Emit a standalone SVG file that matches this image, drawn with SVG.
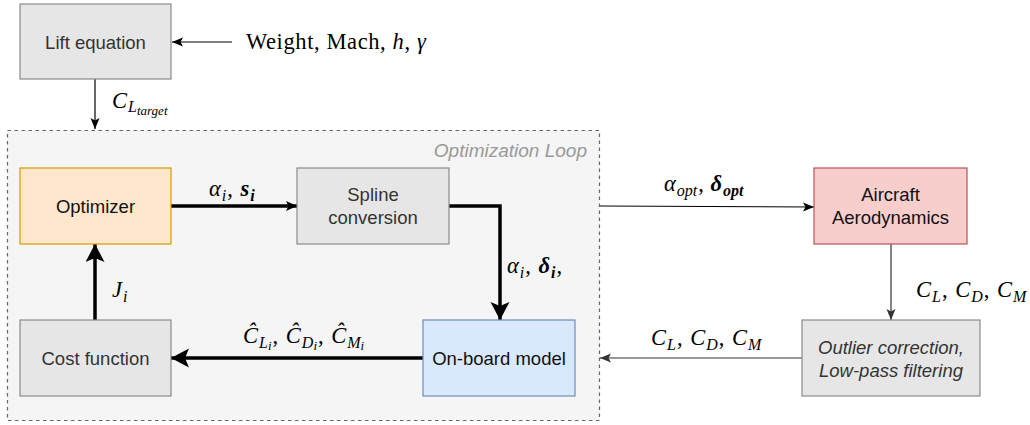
<svg xmlns="http://www.w3.org/2000/svg" width="1030" height="425" viewBox="0 0 1030 425">
<style>
.box{stroke-width:1.2}
.gray{fill:#e6e6e6;stroke:#8a8a8a}
.lbl{font-family:"Liberation Sans",Arial,sans-serif;font-size:18.5px;text-anchor:middle}
.dk{fill:#333}
.bk{fill:#111}
.m{font-family:"Liberation Serif","Times New Roman",serif;font-size:22.5px;fill:#000}
.i{font-style:italic}
.b{font-weight:bold}
.s{font-size:16px}
.ss{font-size:13px}
.thin{stroke:#000;stroke-width:1.2;fill:none}
.thin2{stroke:#333;stroke-width:1.2;fill:none}
.thick{stroke:#000;stroke-width:3.5;fill:none}
</style>
<defs>
<marker id="ah" markerUnits="userSpaceOnUse" markerWidth="12" markerHeight="10" refX="11" refY="4.5" orient="auto">
<path d="M0,0 L11,4.5 L0,9 L2.5,4.5 z" fill="#000"/>
</marker>
<marker id="ah2" markerUnits="userSpaceOnUse" markerWidth="12" markerHeight="10" refX="11" refY="4.5" orient="auto">
<path d="M0,0 L11,4.5 L0,9 L2.5,4.5 z" fill="#333"/>
</marker>
<marker id="am" markerUnits="userSpaceOnUse" markerWidth="12" markerHeight="11" refX="11" refY="5" orient="auto">
<path d="M0,0 L11,5 L0,10 L2.5,5 z" fill="#000"/>
</marker>
<marker id="ab" markerUnits="userSpaceOnUse" markerWidth="20" markerHeight="20" refX="18" refY="9.5" orient="auto">
<path d="M0,0 L18,9.5 L0,19 L4,9.5 z" fill="#000"/>
</marker>
</defs>

<g id="optimization-loop">
<rect x="7.5" y="130.5" width="592" height="290" fill="#f5f5f5" stroke="#666" stroke-width="1.2" stroke-dasharray="3.5 3.5"/>
<text x="587" y="157" font-family="'Liberation Sans',Arial,sans-serif" font-size="19" font-style="italic" fill="#999" text-anchor="end">Optimization Loop</text>
</g>

<g id="connectors">
<line class="thin" x1="232" y1="42" x2="172" y2="42" marker-end="url(#ah)"/>
<line class="thin" x1="95" y1="79" x2="95" y2="129" marker-end="url(#ah)"/>
<line class="thick" x1="171" y1="206" x2="297" y2="206" marker-end="url(#am)"/>
<polyline class="thick" points="449,206 500,206 500,320" marker-end="url(#ab)"/>
<line class="thick" x1="423" y1="358" x2="171" y2="358" marker-end="url(#ab)"/>
<line class="thick" x1="95" y1="320" x2="95" y2="244" marker-end="url(#ab)"/>
<line class="thin" x1="600" y1="206" x2="814" y2="207" marker-end="url(#ah)"/>
<line class="thin2" x1="891" y1="244" x2="891" y2="320" marker-end="url(#ah2)"/>
<line class="thin2" x1="802" y1="358" x2="600" y2="358" marker-end="url(#ah2)"/>
</g>

<g id="lift-equation">
<rect class="box gray" x="20" y="4" width="151" height="75"/>
<text class="lbl dk" x="95.5" y="48.5">Lift equation</text>
</g>

<g id="optimizer">
<rect class="box" x="20" y="168" width="151" height="76" fill="#ffe6cc" stroke="#d79b00"/>
<text class="lbl bk" x="95.5" y="212.5">Optimizer</text>
</g>

<g id="spline-conversion">
<rect class="box gray" x="297" y="168" width="152" height="76"/>
<text class="lbl dk" x="373" y="201">Spline</text>
<text class="lbl dk" x="373" y="224">conversion</text>
</g>

<g id="on-board-model">
<rect class="box" x="423" y="320" width="152" height="76" fill="#dae8fc" stroke="#6c8ebf"/>
<text class="lbl bk" x="499" y="364.5">On-board model</text>
</g>

<g id="cost-function">
<rect class="box gray" x="20" y="320" width="151" height="76"/>
<text class="lbl dk" x="95.5" y="364.5">Cost function</text>
</g>

<g id="aircraft-aerodynamics">
<rect class="box" x="814" y="168" width="153" height="76" fill="#f8cecc" stroke="#b85450"/>
<text class="lbl bk" x="890.5" y="201">Aircraft</text>
<text class="lbl bk" x="890.5" y="224">Aerodynamics</text>
</g>

<g id="outlier-correction">
<rect class="box gray" x="802" y="320" width="178" height="76"/>
<text class="lbl dk i" x="891" y="354">Outlier correction,</text>
<text class="lbl dk i" x="891" y="377">Low-pass filtering</text>
</g>

<g id="labels">
<text class="m" x="246" y="49" letter-spacing="0.6">Weight, Mach, <tspan class="i">h</tspan>, <tspan class="i">γ</tspan></text>
<text class="m" x="112" y="108"><tspan class="i">C</tspan><tspan class="i s" dy="4" dx="1">L</tspan><tspan class="i ss" dy="3">target</tspan></text>
<text class="m" x="209" y="196"><tspan class="i">α</tspan><tspan class="i s" dy="5" dx="1">i</tspan><tspan dy="-5" dx="1">, </tspan><tspan class="i b" dx="2">s</tspan><tspan class="i b s" dy="5" dx="1">i</tspan></text>
<text class="m" x="507" y="273"><tspan class="i">α</tspan><tspan class="i s" dy="5" dx="1">i</tspan><tspan dy="-5" dx="1">, </tspan><tspan class="i b" dx="2">δ</tspan><tspan class="i b s" dy="5" dx="1">i</tspan><tspan dy="-5" dx="1">,</tspan></text>
<text class="m" x="243" y="343"><tspan class="i">Ĉ</tspan><tspan class="i s" dy="5" dx="1">L</tspan><tspan class="i ss" dy="2">i</tspan><tspan dy="-7" dx="1">, </tspan><tspan class="i" dx="2">Ĉ</tspan><tspan class="i s" dy="5" dx="1">D</tspan><tspan class="i ss" dy="2">i</tspan><tspan dy="-7" dx="1">, </tspan><tspan class="i" dx="2">Ĉ</tspan><tspan class="i s" dy="5" dx="1">M</tspan><tspan class="i ss" dy="2">i</tspan></text>
<text class="m" x="112" y="297"><tspan class="i">J</tspan><tspan class="i s" dy="5" dx="1">i</tspan></text>
<text class="m" x="664" y="191"><tspan class="i">α</tspan><tspan class="i s" dy="5" dx="1">opt</tspan><tspan dy="-5" dx="1">, </tspan><tspan class="i b" dx="1">δ</tspan><tspan class="i b s" dy="5" dx="1">opt</tspan></text>
<text class="m" x="916" y="297"><tspan class="i">C</tspan><tspan class="i s" dy="5" dx="1">L</tspan><tspan dy="-5" dx="1">, </tspan><tspan class="i" dx="2">C</tspan><tspan class="i s" dy="5" dx="1">D</tspan><tspan dy="-5" dx="1">, </tspan><tspan class="i" dx="2">C</tspan><tspan class="i s" dy="5" dx="1">M</tspan></text>
<text class="m" x="651" y="345"><tspan class="i">C</tspan><tspan class="i s" dy="5" dx="1">L</tspan><tspan dy="-5" dx="1">, </tspan><tspan class="i" dx="2">C</tspan><tspan class="i s" dy="5" dx="1">D</tspan><tspan dy="-5" dx="1">, </tspan><tspan class="i" dx="2">C</tspan><tspan class="i s" dy="5" dx="1">M</tspan></text>
</g>
</svg>
